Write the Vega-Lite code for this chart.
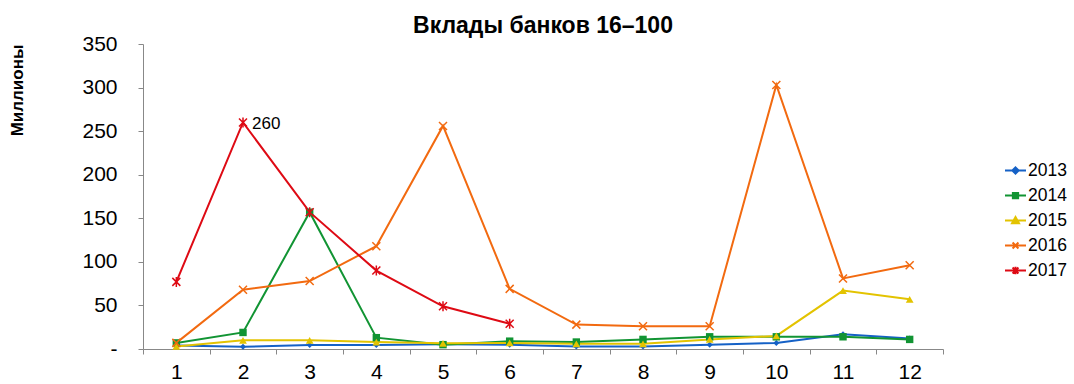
{
  "$schema": "https://vega.github.io/schema/vega-lite/v6.json",
  "width": 800,
  "height": 305,
  "autosize": "none",
  "padding": {"left": 143, "top": 44, "right": 131, "bottom": 35},
  "background": "white",
  "title": {"text": "Вклады банков 16–100", "font": "Liberation Sans", "fontSize": 23, "fontWeight": "bold", "color": "black", "anchor": "middle", "offset": -5},
  "config": {"view": {"stroke": null}, "font": "Liberation Sans"},
  "data": {"values": [
    {"year": "2013", "m": 1, "v": 4}, {"year": "2013", "m": 2, "v": 2.5}, {"year": "2013", "m": 3, "v": 4.5}, {"year": "2013", "m": 4, "v": 4.5}, {"year": "2013", "m": 5, "v": 5.5}, {"year": "2013", "m": 6, "v": 5}, {"year": "2013", "m": 7, "v": 3}, {"year": "2013", "m": 8, "v": 3}, {"year": "2013", "m": 9, "v": 5}, {"year": "2013", "m": 10, "v": 7}, {"year": "2013", "m": 11, "v": 17}, {"year": "2013", "m": 12, "v": 12},
    {"year": "2014", "m": 1, "v": 7}, {"year": "2014", "m": 2, "v": 19}, {"year": "2014", "m": 3, "v": 157}, {"year": "2014", "m": 4, "v": 13}, {"year": "2014", "m": 5, "v": 5}, {"year": "2014", "m": 6, "v": 9}, {"year": "2014", "m": 7, "v": 8}, {"year": "2014", "m": 8, "v": 11}, {"year": "2014", "m": 9, "v": 14}, {"year": "2014", "m": 10, "v": 14}, {"year": "2014", "m": 11, "v": 14}, {"year": "2014", "m": 12, "v": 11},
    {"year": "2015", "m": 1, "v": 3}, {"year": "2015", "m": 2, "v": 10}, {"year": "2015", "m": 3, "v": 10}, {"year": "2015", "m": 4, "v": 8}, {"year": "2015", "m": 5, "v": 6.5}, {"year": "2015", "m": 6, "v": 7}, {"year": "2015", "m": 7, "v": 6}, {"year": "2015", "m": 8, "v": 6}, {"year": "2015", "m": 9, "v": 11}, {"year": "2015", "m": 10, "v": 15}, {"year": "2015", "m": 11, "v": 67}, {"year": "2015", "m": 12, "v": 57},
    {"year": "2016", "m": 1, "v": 7}, {"year": "2016", "m": 2, "v": 68}, {"year": "2016", "m": 3, "v": 78}, {"year": "2016", "m": 4, "v": 118}, {"year": "2016", "m": 5, "v": 256}, {"year": "2016", "m": 6, "v": 69}, {"year": "2016", "m": 7, "v": 28}, {"year": "2016", "m": 8, "v": 26}, {"year": "2016", "m": 9, "v": 26}, {"year": "2016", "m": 10, "v": 303}, {"year": "2016", "m": 11, "v": 81}, {"year": "2016", "m": 12, "v": 96},
    {"year": "2017", "m": 1, "v": 77}, {"year": "2017", "m": 2, "v": 260}, {"year": "2017", "m": 3, "v": 157}, {"year": "2017", "m": 4, "v": 90}, {"year": "2017", "m": 5, "v": 49}, {"year": "2017", "m": 6, "v": 29}
  ]},
  "encoding": {
    "x": {"field": "m", "type": "ordinal", "scale": {"type": "band", "paddingInner": 0, "paddingOuter": 0},
      "axis": {"title": null, "labelAngle": 0, "tickBand": "extent", "labelFontSize": 21, "labelPadding": 7, "tickSize": 5, "domainColor": "#888888", "tickColor": "#888888", "labelColor": "black", "grid": false}},
    "y": {"field": "v", "type": "quantitative", "scale": {"domain": [0, 350], "nice": false},
      "axis": {"values": [0, 50, 100, 150, 200, 250, 300, 350], "labelExpr": "datum.value == 0 ? '-' : datum.label", "labelFontSize": 21, "labelPadding": 21, "tickSize": 5, "domainColor": "#888888", "tickColor": "#888888", "labelColor": "black", "grid": false,
        "title": "Миллионы", "titleFontSize": 17, "titleFontWeight": "bold", "titleColor": "black", "titleAngle": -90, "titleX": -117, "titleY": 0, "titleAlign": "right", "titleBaseline": "bottom"}},
    "color": {"field": "year", "type": "nominal",
      "scale": {"domain": ["2013", "2014", "2015", "2016", "2017"], "range": ["#1561c6", "#119433", "#e3c300", "#f26a10", "#de0a14"]},
      "legend": {"title": null, "orient": "none", "legendX": 861, "legendY": 115, "labelFontSize": 17.5, "labelColor": "black", "symbolSize": 441, "rowPadding": 5, "labelOffset": 1,
        "encode": {"symbols": {"update": {
          "shape": {"signal": "datum.value=='2013' ? 'M-1,0L1,0M0,-0.3L0.3,0L0,0.3L-0.3,0Z' : datum.value=='2014' ? 'M-1,0L1,0M-0.25,-0.25L0.25,-0.25L0.25,0.25L-0.25,0.25Z' : datum.value=='2015' ? 'M-1,0L1,0M0,-0.33L0.33,0.25L-0.33,0.25Z' : datum.value=='2016' ? 'M-1,0L1,0M-0.28,-0.28L0.28,0.28M-0.28,0.28L0.28,-0.28' : 'M-1,0L1,0M-0.28,-0.28L0.28,0.28M-0.28,0.28L0.28,-0.28M0,-0.36L0,0.36'"},
          "fill": {"signal": "datum.value=='2016' || datum.value=='2017' ? 'transparent' : scale('color', datum.value)"},
          "stroke": {"scale": "color", "field": "value"},
          "strokeWidth": {"value": 2},
          "opacity": {"value": 1},
          "fillOpacity": {"value": 1},
          "strokeOpacity": {"value": 1}
        }}}}
    }
  },
  "layer": [
    {"mark": {"type": "line", "strokeWidth": 2}},
    {"transform": [{"filter": "datum.year == '2013'"}], "mark": {"type": "point", "shape": "diamond", "size": 36, "filled": true, "opacity": 1}},
    {"transform": [{"filter": "datum.year == '2014'"}], "mark": {"type": "point", "shape": "square", "size": 55, "filled": true, "opacity": 1}},
    {"transform": [{"filter": "datum.year == '2015'"}], "mark": {"type": "point", "shape": "triangle-up", "size": 60, "filled": true, "opacity": 1}},
    {"transform": [{"filter": "datum.year == '2016'"}], "mark": {"type": "point", "shape": "M-1,-1L1,1M-1,1L1,-1", "size": 64, "filled": false, "opacity": 1, "strokeWidth": 1.5}},
    {"transform": [{"filter": "datum.year == '2017'"}], "mark": {"type": "point", "shape": "M-1,-1L1,1M-1,1L1,-1M0,-1.25L0,1.25", "size": 64, "filled": false, "opacity": 1, "strokeWidth": 1.5}},
    {
      "transform": [{"filter": "datum.year == '2017' && datum.m == 2"}],
      "mark": {"type": "text", "align": "left", "baseline": "middle", "dx": 9, "dy": 2, "fontSize": 17},
      "encoding": {"text": {"field": "v", "type": "quantitative"}, "color": {"value": "black"}}
    }
  ]
}
